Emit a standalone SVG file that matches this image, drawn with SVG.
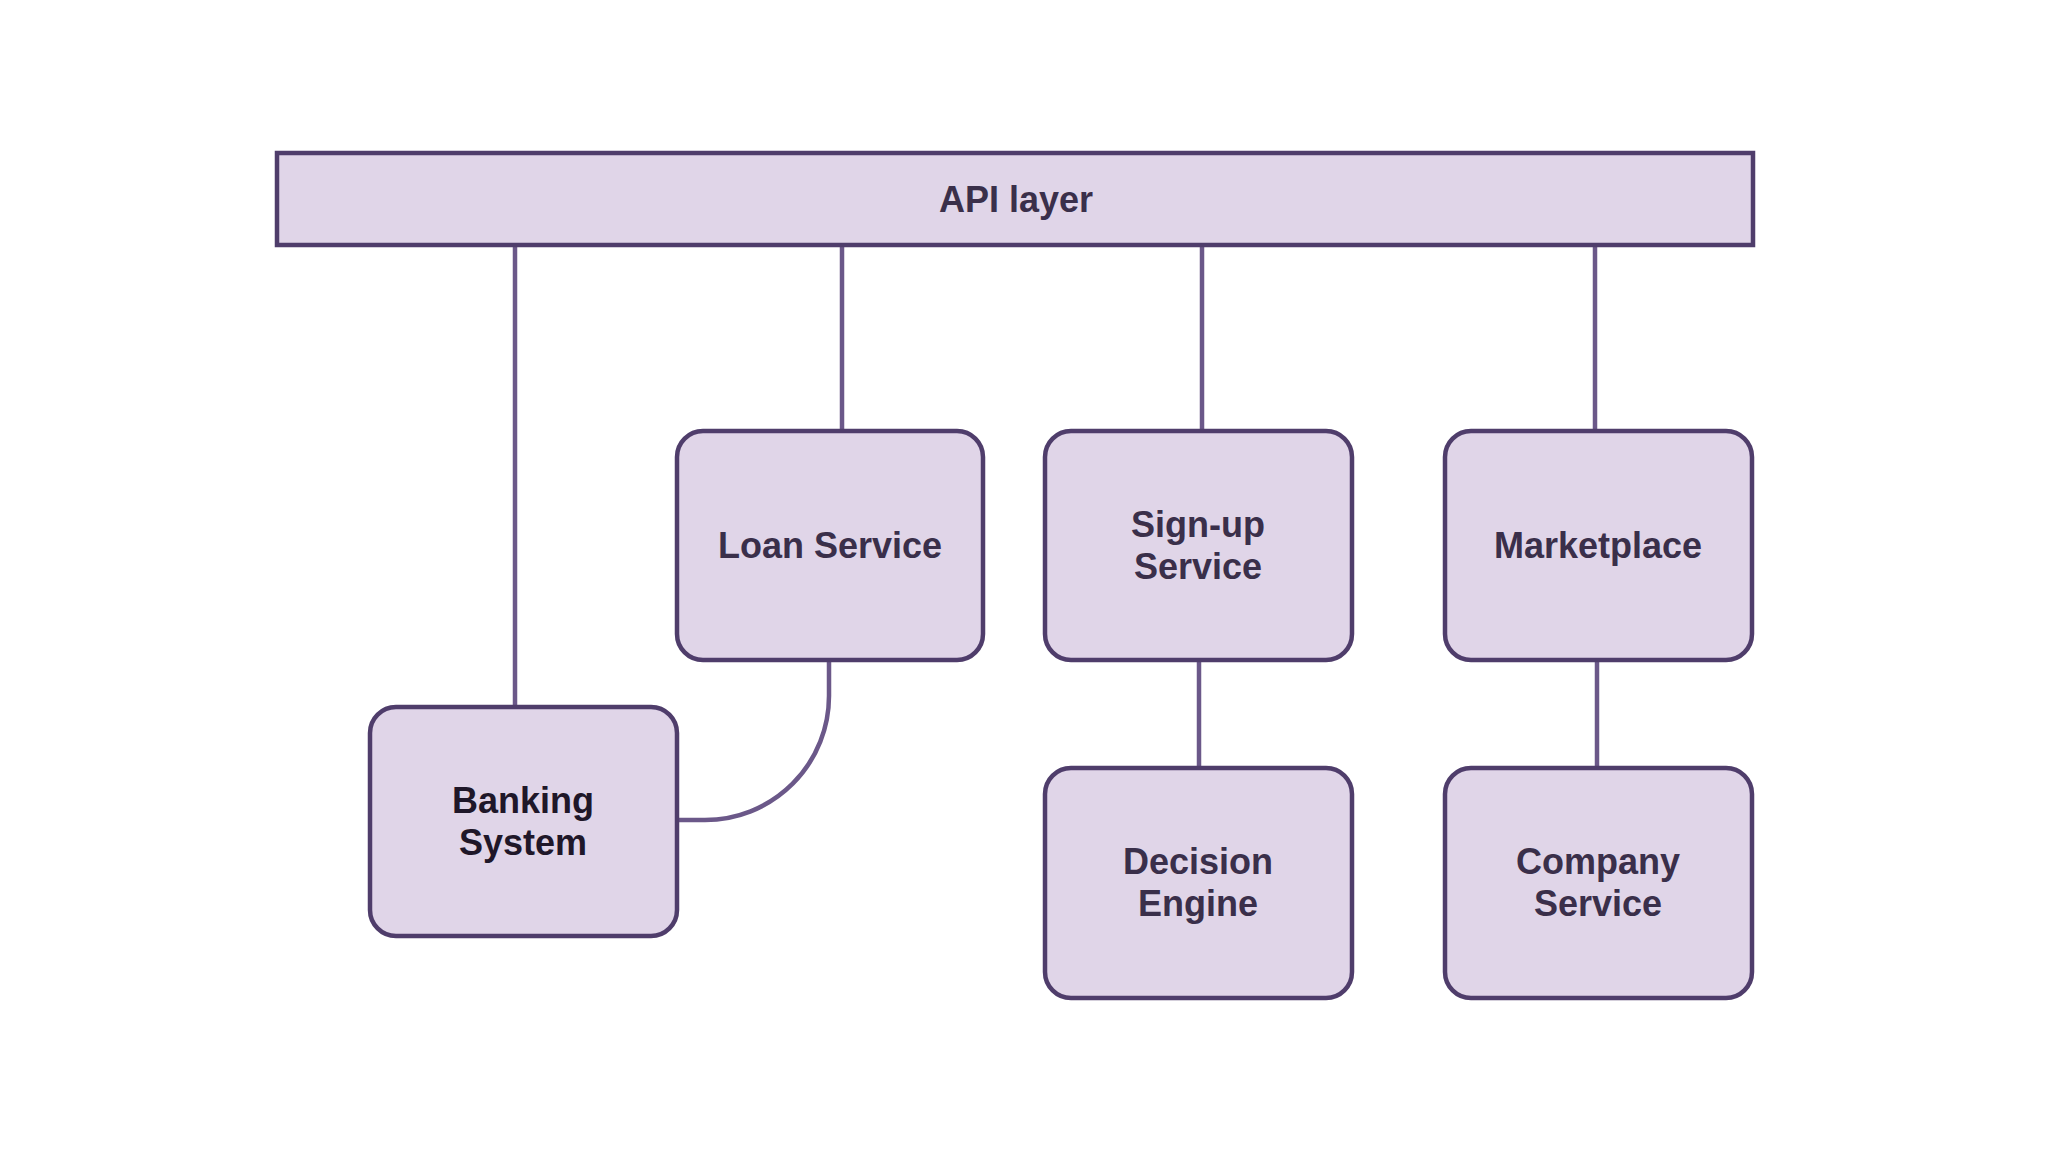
<svg xmlns="http://www.w3.org/2000/svg" width="2048" height="1152" viewBox="0 0 2048 1152">
<style>
.box{fill:#e0d5e8;stroke:#4f3d6b;stroke-width:4.5}
.lbl{font-family:"Liberation Sans",Arial,sans-serif;font-weight:bold;font-size:36px;fill:#3a2f4a;text-anchor:middle}
.dark{fill:#1f1729}
.conn{fill:none;stroke:#6b5889;stroke-width:4.5}
</style>
<rect width="2048" height="1152" fill="#ffffff"/>
<g id="connectors">
<line class="conn" x1="515" y1="246" x2="515" y2="707"/>
<line class="conn" x1="842" y1="246" x2="842" y2="431"/>
<line class="conn" x1="1202" y1="246" x2="1202" y2="431"/>
<line class="conn" x1="1595" y1="246" x2="1595" y2="431"/>
<path class="conn" d="M829,660 L829,696 A124,124 0 0 1 705,820 L677,820"/>
<line class="conn" x1="1199" y1="660" x2="1199" y2="768"/>
<line class="conn" x1="1597" y1="660" x2="1597" y2="768"/>
</g>
<g id="api-layer">
<rect class="box" x="277" y="153" width="1476" height="92"/>
<text class="lbl" x="1016" y="212">API layer</text>
</g>
<g id="loan-service">
<rect class="box" x="677" y="431" width="306" height="229" rx="26"/>
<text class="lbl" x="830" y="558">Loan Service</text>
</g>
<g id="signup-service">
<rect class="box" x="1045" y="431" width="307" height="229" rx="26"/>
<text class="lbl" x="1198" y="537">Sign-up</text>
<text class="lbl" x="1198" y="579">Service</text>
</g>
<g id="marketplace">
<rect class="box" x="1445" y="431" width="307" height="229" rx="26"/>
<text class="lbl" x="1598" y="558">Marketplace</text>
</g>
<g id="banking-system">
<rect class="box" x="370" y="707" width="307" height="229" rx="26"/>
<text class="lbl dark" x="523" y="813">Banking</text>
<text class="lbl dark" x="523" y="855">System</text>
</g>
<g id="decision-engine">
<rect class="box" x="1045" y="768" width="307" height="230" rx="26"/>
<text class="lbl" x="1198" y="874">Decision</text>
<text class="lbl" x="1198" y="916">Engine</text>
</g>
<g id="company-service">
<rect class="box" x="1445" y="768" width="307" height="230" rx="26"/>
<text class="lbl" x="1598" y="874">Company</text>
<text class="lbl" x="1598" y="916">Service</text>
</g>
</svg>
